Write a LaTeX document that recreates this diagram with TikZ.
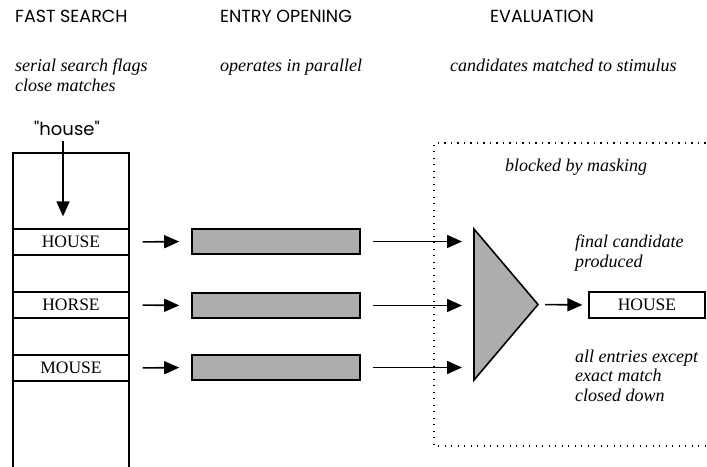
\documentclass[tikz,border=0pt]{standalone}
\usepackage{fontspec}
\setmainfont{Liberation Serif}
\newfontfamily\headfont{Poppins}
\usetikzlibrary{arrows.meta}
\definecolor{barfill}{gray}{0.68}

\begin{document}
\begin{tikzpicture}[x=1pt,y=-1pt,
  head/.style={font=\headfont\fontsize{17.5}{20}\selectfont, anchor=base west, inner sep=0},
  note/.style={font=\itshape\fontsize{18}{20}\selectfont, align=left, inner sep=0},
  strip/.style={draw, line width=1.2pt, minimum width=116pt, minimum height=26pt,
    inner sep=0, font=\fontsize{17.5}{17.5}\selectfont},
  bar/.style={draw, line width=1.6pt, fill=barfill, minimum width=168pt,
    minimum height=25pt, inner sep=0},
  flow/.style={-{Triangle[length=15pt,width=13pt]}, line width=1.6pt},
  memo/.style={line width=1.2pt},
  mask/.style={line width=1.4pt, dash pattern=on 1.3pt off 5.2pt}
]
\useasboundingbox (0,0) rectangle (707,466);

% column headings
\node[head] (hFast) at (15,22) {FAST SEARCH};
\node[head] (hEntry) at (220,22) {ENTRY OPENING};
\node[head] (hEval) at (490,22) {EVALUATION};

% column notes (base anchor of a multi-line note sits on its last line)
\node[note, anchor=base west] (nFast) at (15,91) {serial search flags\\close matches};
\node[note, anchor=base west] (nEntry) at (220,71) {operates in parallel};
\node[note, anchor=base west] (nEval) at (450,71) {candidates matched to stimulus};

% lexicon column searched from the top
\draw[memo] (13,470) -- (13,153) -- (129,153) -- (129,470);
\node[font=\headfont\fontsize{18}{18}\selectfont, anchor=base, inner sep=0] (house) at (67,135) {"house"};
\coordinate (drop) at (63,141);

\node[strip] (sHouse) at (71,242) {HOUSE};
\node[strip] (sHorse) at (71,305) {HORSE};
\node[strip] (sMouse) at (71,368) {MOUSE};

\draw[flow] (drop) -- ([shift={(0,-12)}]drop |- sHouse.north);

% opened entries
\node[bar] (bHouse) at (276,241.5) {};
\node[bar] (bHorse) at (276,305.5) {};
\node[bar] (bMouse) at (276,367.5) {};

\foreach \s/\b in {sHouse/bHouse, sHorse/bHorse, sMouse/bMouse}
  \draw[flow, shorten <=13pt, shorten >=12pt] (\s.east) -- (\b.west);

% evaluation stage, blocked by masking
\draw[mask] (712,143) -- (434,143) -- (434,446) -- (712,446);
\node[note, anchor=base west] (nMask) at (505,171) {blocked by masking};

\coordinate (tTop) at (474,229);
\coordinate (tBot) at (474,380);
\coordinate (tApex) at (538,304.5);
\draw[line width=1.6pt, fill=barfill, line join=miter] (tTop) -- (tApex) -- (tBot) -- cycle;

\foreach \b in {bHouse, bHorse, bMouse}
  \draw[flow, shorten <=12pt, shorten >=12pt] (\b.east) -- (\b.east -| tTop);

\node[strip] (result) at (647,305) {HOUSE};
\draw[flow, shorten <=7pt, shorten >=6pt] (tApex) -- (result.west);

\node[note, anchor=base west] (nFinal) at (575,267) {final candidate\\produced};
\node[note, anchor=base west, font=\itshape\fontsize{18}{19.5}\selectfont] (nClosed) at (575,401)
  {all entries except\\exact match\\closed down};
\end{tikzpicture}
\end{document}
